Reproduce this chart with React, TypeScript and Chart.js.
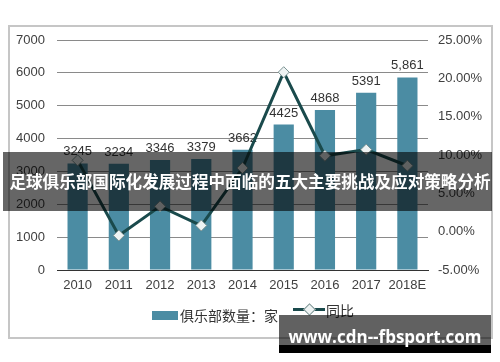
import React, { useEffect, useRef } from 'react';
import { Chart, registerables } from 'chart.js';

Chart.register(...registerables);

const categories = ['2010', '2011', '2012', '2013', '2014', '2015', '2016', '2017', '2018E'];
const clubCounts = [3245, 3234, 3346, 3379, 3662, 4425, 4868, 5391, 5861];
const clubCountLabels = ['3245', '3234', '3346', '3379', '3662', '4425', '4868', '5391', '5,861'];
const yoyGrowth = [9.3, -0.5, 3.3, 0.8, 8.3, 20.8, 9.9, 10.7, 8.6];
const barLegend = '俱乐部数量：家';
const lineLegend = '同比';
const bannerText = '足球俱乐部国际化发展过程中面临的五大主要挑战及应对策略分析';
const watermarkText = 'www.cdn--fbsport.com';

const BAR_COLOR = '#4b8ca3';
const LINE_COLOR = '#1a4a4c';
const TICK_FONT = { family: '"Liberation Sans", Arial, sans-serif', size: 13 };

const barLabelPlugin = {
  id: 'barLabels',
  beforeDatasetsDraw(chart: any) {
    const meta = chart.getDatasetMeta(0);
    const ctx = chart.ctx;
    ctx.save();
    ctx.font = '13px "Liberation Sans", Arial, sans-serif';
    ctx.fillStyle = '#333333';
    ctx.textAlign = 'center';
    ctx.textBaseline = 'alphabetic';
    meta.data.forEach((el: any, i: number) => {
      ctx.fillText(clubCountLabels[i], el.x, el.y - 8);
    });
    ctx.restore();
  },
};

export default function App() {
  const canvasRef = useRef<HTMLCanvasElement | null>(null);

  useEffect(() => {
    if (!canvasRef.current) return;
    const chart = new Chart(canvasRef.current, {
      type: 'bar',
      data: {
        labels: categories,
        datasets: [
          {
            type: 'bar',
            label: barLegend,
            data: clubCounts,
            backgroundColor: BAR_COLOR,
            yAxisID: 'y',
            categoryPercentage: 1,
            barPercentage: 0.49,
            order: 2,
          } as any,
          {
            type: 'line',
            label: lineLegend,
            data: yoyGrowth,
            yAxisID: 'y1',
            borderColor: LINE_COLOR,
            borderWidth: 3,
            pointStyle: 'rectRot',
            pointRadius: 5.5,
            pointBackgroundColor: '#eef3f3',
            pointBorderColor: '#7a9292',
            pointBorderWidth: 1,
            tension: 0,
            order: 1,
          } as any,
        ],
      },
      options: {
        responsive: false,
        animation: false,
        layout: { padding: { left: 0, right: 0, top: 40, bottom: 0 } },
        plugins: {
          legend: { display: false },
          tooltip: { enabled: false },
          title: { display: false },
        },
        scales: {
          x: {
            grid: { display: false, drawTicks: false },
            border: { display: true, color: '#333333', width: 1 },
            ticks: { color: '#404040', font: TICK_FONT, padding: 8, maxRotation: 0, autoSkip: false },
            afterFit: (s: any) => { s.height = 92; },
          },
          y: {
            position: 'left',
            min: 0,
            max: 7000,
            ticks: {
              stepSize: 1000,
              color: '#404040',
              font: TICK_FONT,
              padding: 12,
              callback: (v: any) => String(v),
            },
            grid: {
              drawTicks: false,
              color: (c: any) => (c.tick && c.tick.value === 0 ? '#333333' : '#8a8a8a'),
              lineWidth: 1,
            },
            border: { display: false },
            afterFit: (s: any) => { s.width = 57; },
          },
          y1: {
            position: 'right',
            min: -5,
            max: 25,
            ticks: {
              stepSize: 5,
              color: '#404040',
              font: TICK_FONT,
              padding: 10,
              callback: (v: any) => Number(v).toFixed(2) + '%',
            },
            grid: { display: false, drawTicks: false },
            border: { display: false },
            afterFit: (s: any) => { s.width = 72; },
          },
        },
      } as any,
      plugins: [barLabelPlugin],
    });
    return () => chart.destroy();
  }, []);

  const cjk = '"Noto Sans CJK SC", "Noto Sans", sans-serif';

  return (
    <div style={{ position: 'absolute', left: 0, top: 0, width: 500, height: 362, background: '#ffffff', overflow: 'hidden' }}>
      <div
        style={{
          position: 'absolute',
          left: 8,
          top: 25,
          width: 481,
          height: 310,
          border: '2px solid #c6c6c6',
          background: '#ffffff',
        }}
      />
      <canvas ref={canvasRef} width={500} height={362} style={{ position: 'absolute', left: 0, top: 0, width: 500, height: 362 }} />
      {/* legend */}
      <div style={{ position: 'absolute', left: 152, top: 311, width: 26, height: 9, background: BAR_COLOR }} />
      <div style={{ position: 'absolute', left: 180, top: 305, height: 20, lineHeight: '20px', fontFamily: cjk, fontSize: 14, color: '#333333', whiteSpace: 'nowrap' }}>
        {barLegend}
      </div>
      <div style={{ position: 'absolute', left: 293, top: 308, width: 32, height: 3, background: LINE_COLOR }} />
      <div
        style={{
          position: 'absolute',
          left: 305,
          top: 305,
          width: 7,
          height: 7,
          background: '#eef3f3',
          border: '1px solid #7a9292',
          transform: 'rotate(45deg)',
        }}
      />
      <div style={{ position: 'absolute', left: 326, top: 300, height: 20, lineHeight: '20px', fontFamily: cjk, fontSize: 14, color: '#333333', whiteSpace: 'nowrap' }}>
        {lineLegend}
      </div>
      {/* banner overlay */}
      <div style={{ position: 'absolute', left: 3, top: 152, width: 489, height: 59, background: 'rgba(0,0,0,0.6)' }} />
      <div
        style={{
          position: 'absolute',
          left: 0,
          top: 152,
          width: 500,
          height: 59,
          lineHeight: '59px',
          textAlign: 'center',
          fontFamily: cjk,
          fontWeight: 700,
          fontSize: 16.6,
          color: '#ffffff',
          whiteSpace: 'nowrap',
        }}
      >
        {bannerText}
      </div>
      {/* watermark */}
      <div style={{ position: 'absolute', left: 279, top: 315, width: 212, height: 30, background: 'rgba(0,0,0,0.62)' }} />
      <div style={{ position: 'absolute', left: 279, top: 345, width: 212, height: 8, background: '#000000' }} />
      <div
        style={{
          position: 'absolute',
          left: 279,
          top: 325,
          width: 212,
          height: 24,
          lineHeight: '24px',
          textAlign: 'center',
          fontFamily: '"Open Sans", sans-serif',
          fontWeight: 700,
          fontSize: 17,
          color: '#ffffff',
          whiteSpace: 'nowrap',
        }}
      >
        {watermarkText}
      </div>
    </div>
  );
}
